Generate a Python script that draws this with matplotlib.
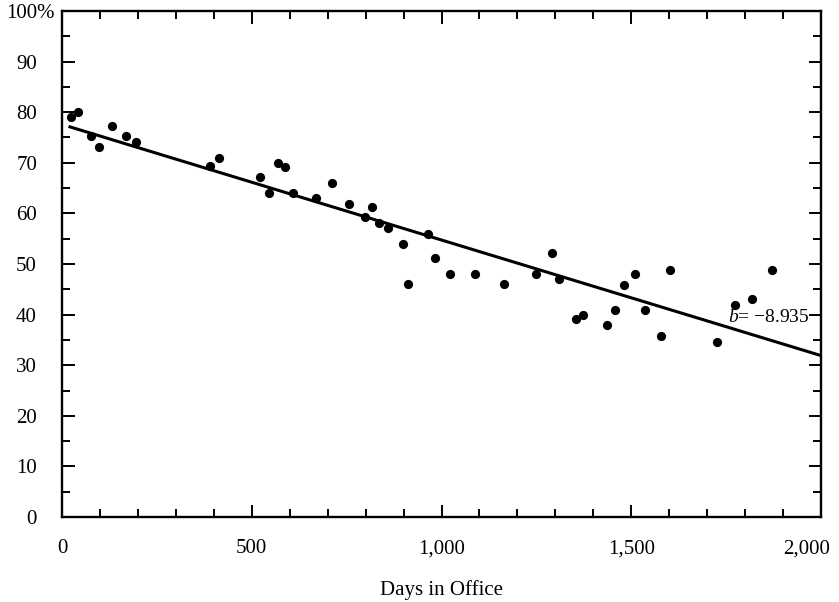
import matplotlib
matplotlib.use("Agg")
import matplotlib.pyplot as plt
from matplotlib.ticker import MultipleLocator, FuncFormatter
import matplotlib.transforms as mtransforms

days = [24, 43, 76, 98, 131, 169, 196, 391, 414, 521, 545, 568, 587, 610,
        670, 711, 756, 798, 817, 835, 858, 899, 913, 964, 982, 1022, 1088,
        1166, 1250, 1290, 1310, 1355, 1374, 1437, 1458, 1482, 1509, 1536,
        1579, 1603, 1727, 1773, 1819, 1871]
approval = [79.1, 80.0, 75.2, 73.1, 77.3, 75.2, 74.1, 69.3, 71.0, 67.1, 64.1,
            70.0, 69.2, 64.1, 63.0, 66.1, 61.9, 59.2, 61.2, 58.1, 57.1, 53.9,
            46.0, 56.0, 51.1, 48.1, 48.1, 46.0, 48.0, 52.1, 47.0, 39.1, 40.0,
            37.9, 41.0, 45.8, 48.0, 41.0, 35.8, 48.9, 34.6, 41.9, 43.0, 48.8]
line_x = [21, 2000]
line_y = [77.1, 31.9]
slope_label = "−8.935"
label_pos = (1755, 39.4)

yticks = [0, 10, 20, 30, 40, 50, 60, 70, 80, 90, 100]
xticks = [0, 500, 1000, 1500, 2000]

plt.rcParams['font.family'] = ['Liberation Serif', 'DejaVu Serif']
plt.rcParams['mathtext.fontset'] = 'custom'
plt.rcParams['mathtext.it'] = 'Liberation Serif:italic'
plt.rcParams['mathtext.rm'] = 'Liberation Serif'

FS = 15

fig = plt.figure(figsize=(8.39, 6.02), dpi=100)
ax = fig.add_axes([62/839, 1-517/602, (821-62)/839, (517-11)/602])

ax.scatter(days, approval, s=44, color='black', zorder=3, linewidths=0)
ax.plot(line_x, line_y, color='black', lw=2.2, zorder=2)
ax.text(label_pos[0], label_pos[1], "$b$= " + slope_label, fontsize=14,
        ha='left', va='center', color='black', zorder=4)

ax.set_xlim(0, 2000)
ax.set_ylim(0, 100)
ax.set_xticks(xticks)
ax.set_yticks(yticks)
ax.xaxis.set_minor_locator(MultipleLocator(100))
ax.yaxis.set_minor_locator(MultipleLocator(5))
ax.xaxis.set_major_formatter(FuncFormatter(lambda v, p: f"{int(v):,}"))
ax.set_yticklabels([str(v) for v in yticks])

for s in ax.spines.values():
    s.set_linewidth(1.7)

ax.tick_params(which='both', direction='in', top=True, right=True,
               colors='black', width=1.4, labelsize=FS)
ax.tick_params(which='major', length=9)
ax.tick_params(which='minor', length=5.5)
ax.tick_params(axis='y', which='major', pad=18)
ax.tick_params(axis='x', which='major', pad=16)

# shift the last x label left so it stays inside the figure
last = ax.get_xticklabels()[-1]
last.set_transform(last.get_transform() +
                   mtransforms.ScaledTranslation(-14/100, 0, fig.dpi_scale_trans))

# percent sign after top label
off = mtransforms.offset_copy(ax.get_yaxis_transform(), fig=fig, x=-26, y=0, units='dots')
ax.text(0, 100, "%", transform=off, fontsize=FS, ha='left', va='center_baseline')

ax.set_xlabel("Days in Office", fontsize=FS, labelpad=16)

fig.savefig("out.png", dpi=100)
